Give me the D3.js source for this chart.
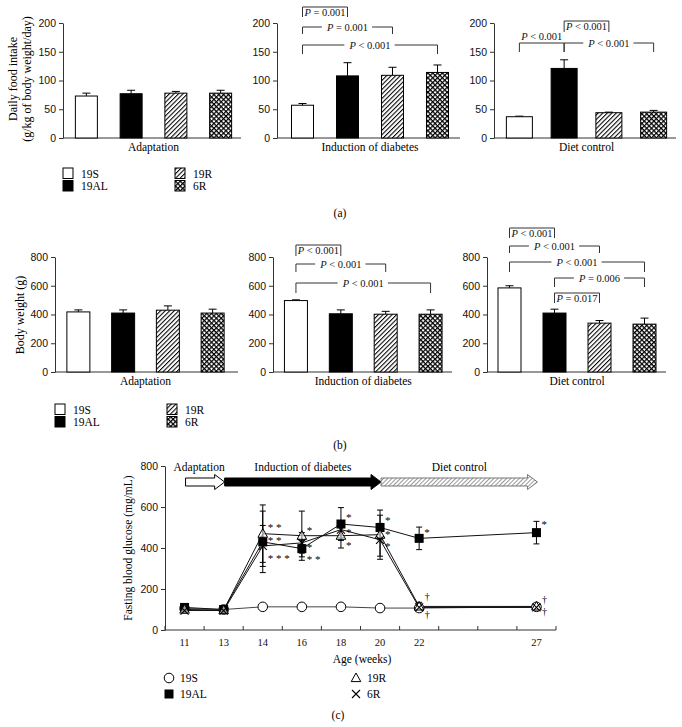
<!DOCTYPE html>
<html>
<head>
<meta charset="utf-8">
<script src="https://cdn.jsdelivr.net/npm/d3@7"></script>
<style>
  body { margin: 0; background: #fff; }
  svg { font-family: "Liberation Serif", "DejaVu Serif", serif; }
</style>
</head>
<body>
<svg id="chart" width="682" height="727"></svg>
<script>
// ---- data ----
const groups = ["19S", "19AL", "19R", "6R"];
const phases = ["Adaptation", "Induction of diabetes", "Diet control"];

// daily food intake (g/kg of body weight/day), one row per phase
const foodMean = [[73, 77, 78, 78], [57, 108, 109, 114], [37, 121, 44, 45]];
const foodErr = [[5, 6, 3, 5], [3, 23, 14, 13], [1, 15, 1, 3]];
// body weight (g)
const weightMean = [[418, 410, 430, 410], [497, 405, 402, 402], [585, 410, 340, 333]];
const weightErr = [[14, 22, 30, 27], [5, 27, 20, 30], [15, 27, 18, 42]];

// comparisons: [phase, group a, group b, label]
const foodStats = [
  [1, 0, 1, "= 0.001"], [1, 0, 2, "= 0.001"], [1, 0, 3, "< 0.001"],
  [2, 0, 1, "< 0.001"], [2, 1, 2, "< 0.001"], [2, 1, 3, "< 0.001"]
];
const weightStats = [
  [1, 0, 1, "< 0.001"], [1, 0, 2, "< 0.001"], [1, 0, 3, "< 0.001"],
  [2, 0, 1, "< 0.001"], [2, 0, 2, "< 0.001"], [2, 0, 3, "< 0.001"],
  [2, 1, 3, "= 0.006"], [2, 1, 2, "= 0.017"]
];

// fasting blood glucose (mg/mL)
const weeks = [11, 13, 14, 16, 18, 20, 22, 27];
const weekSlot = [0, 1, 2, 3, 4, 5, 6, 9];
const glucose19S = [105, 100, 113, 113, 113, 107, 107, 113];
const glucose19SErr = [8, 5, 4, 4, 4, 4, 4, 4];
const glucose19AL = [110, 100, 430, 397, 517, 500, 447, 475];
const glucose19ALErr = [10, 8, 150, 40, 80, 60, 55, 55];
const glucose19R = [100, 97, 470, 460, 460, 465, 115, 115];
const glucose19RErr = [10, 8, 140, 120, 60, 120, 20, 10];
const glucose6R = [95, 95, 410, 425, 490, 440, 110, 110];
const glucose6RErr = [8, 8, 100, 50, 40, 80, 15, 10];
const phaseSpans = [[11, 13], [13, 20], [20, 27]];
// significance marks: [week, value, text]
const starMarks = [
  [14, 512, "* *"], [14, 449, "* *"], [14, 361, "* * *"],
  [16, 500, "*"], [16, 415, "*"], [16, 355, "* *"],
  [18, 560, "*"], [18, 490, "*"], [18, 425, "*"],
  [20, 545, "*"], [20, 480, "*"], [20, 420, "*"],
  [22, 488, "*"], [27, 527, "*"]
];
const daggerMarks = [[22, 166], [22, 78], [27, 151], [27, 93]];

// ---- setup ----
const svg = d3.select("#chart");
svg.append("rect").attr("width", 682).attr("height", 727).attr("fill", "#fff");
const defs = svg.append("defs");

const hatch = defs.append("pattern").attr("id", "hatch")
  .attr("patternUnits", "userSpaceOnUse").attr("width", 3.2).attr("height", 3.2)
  .attr("patternTransform", "rotate(45)");
hatch.append("rect").attr("width", 3.2).attr("height", 3.2).attr("fill", "#fff");
hatch.append("line").attr("x1", 0.5).attr("x2", 0.5).attr("y1", 0).attr("y2", 3.2)
  .attr("stroke", "#000").attr("stroke-width", 1.1);

const cross = defs.append("pattern").attr("id", "cross")
  .attr("patternUnits", "userSpaceOnUse").attr("width", 3.4).attr("height", 3.4)
  .attr("patternTransform", "rotate(45)");
cross.append("rect").attr("width", 3.4).attr("height", 3.4).attr("fill", "#fff");
cross.append("path").attr("d", "M0,0.6H3.4M0.6,0V3.4")
  .attr("stroke", "#000").attr("stroke-width", 1.2);

const arrowHatch = defs.append("pattern").attr("id", "arrowHatch")
  .attr("patternUnits", "userSpaceOnUse").attr("width", 3).attr("height", 3)
  .attr("patternTransform", "rotate(45)");
arrowHatch.append("rect").attr("width", 3).attr("height", 3).attr("fill", "#fff");
arrowHatch.append("line").attr("x1", 0.5).attr("x2", 0.5).attr("y1", 0).attr("y2", 3)
  .attr("stroke", "#999").attr("stroke-width", 1);

const groupFill = ["#fff", "#000", "url(#hatch)", "url(#cross)"];

function pLabel(sel, label) {
  sel.append("tspan").attr("font-style", "italic").text("P");
  sel.append("tspan").text(" " + label);
}

function bracket(x, stat, lay) {
  const xa = x(groups[stat[1]]) + x.bandwidth() / 2;
  const xb = x(groups[stat[2]]) + x.bandwidth() / 2;
  const g = svg.append("g");
  g.append("path")
    .attr("d", `M${xa},${lay.y + lay.drop}V${lay.y}H${xb}V${lay.y + lay.drop}`)
    .attr("fill", "none").attr("stroke", "#333").attr("stroke-width", 1);
  const t = g.append("text").attr("x", (xa + xb) / 2).attr("text-anchor", "middle")
    .attr("font-size", 10.5).attr("fill", "#111");
  pLabel(t, stat[3]);
  if (lay.mode === "box") t.attr("y", lay.y + 9);
  else if (lay.mode === "above") t.attr("y", lay.y - 3);
  else {
    t.attr("y", lay.y + 3.5);
    const bb = t.node().getBBox();
    g.insert("rect", "text").attr("x", bb.x - 4).attr("y", lay.y - 2)
      .attr("width", bb.width + 8).attr("height", 4).attr("fill", "#fff");
  }
}

function barFigure(cfg) {
  const y = d3.scaleLinear().domain(cfg.domain).range([cfg.yBottom, cfg.yTop]);
  const xs = cfg.panels.map((p, i) => {
    const x = d3.scaleBand().domain(groups).range([p.x0, p.x1]);
    const g = svg.append("g");
    g.append("g").attr("transform", `translate(${p.axisX},0)`)
      .call(d3.axisLeft(y).tickValues(cfg.ticks).tickSize(4).tickSizeOuter(0).tickPadding(3))
      .call(a => a.selectAll("text").attr("font-size", 10.5).attr("font-family", null).attr("fill", "#111"))
      .call(a => a.selectAll("path,line").attr("stroke", "#333"));
    g.append("line").attr("x1", p.axisX).attr("x2", p.end)
      .attr("y1", y(0)).attr("y2", y(0)).attr("stroke", "#333");
    groups.forEach((grp, j) => {
      const cx = x(grp) + x.bandwidth() / 2;
      const m = cfg.mean[i][j], e = cfg.err[i][j];
      g.append("line").attr("x1", cx).attr("x2", cx).attr("y1", y(m)).attr("y2", y(m + e))
        .attr("stroke", "#000");
      g.append("line").attr("x1", cx - 4).attr("x2", cx + 4).attr("y1", y(m + e)).attr("y2", y(m + e))
        .attr("stroke", "#000");
      g.append("rect").attr("x", cx - p.bw / 2).attr("width", p.bw)
        .attr("y", y(m)).attr("height", y(0) - y(m))
        .attr("fill", groupFill[j]).attr("stroke", "#000").attr("stroke-width", 1);
    });
    g.append("text").attr("x", (p.x0 + p.x1) / 2).attr("y", cfg.phaseY)
      .attr("text-anchor", "middle").attr("font-size", 11.5).text(phases[i]);
    return x;
  });
  cfg.stats.forEach((s, k) => bracket(xs[s[0]], s, cfg.layout[k]));

  // legend
  groups.forEach((grp, j) => {
    const lx = cfg.legendX[Math.floor(j / 2)], ly = cfg.legendY + (j % 2) * 12.5;
    svg.append("rect").attr("x", lx).attr("y", ly).attr("width", 10).attr("height", 10.5)
      .attr("fill", groupFill[j]).attr("stroke", "#000");
    svg.append("text").attr("x", lx + 18).attr("y", ly + 9.5).attr("font-size", 11.5).text(grp);
  });
  svg.append("text").attr("x", 340).attr("y", cfg.tagY).attr("text-anchor", "middle")
    .attr("font-size", 11.5).text(cfg.tag);
}

// ---- (a) daily food intake ----
barFigure({
  domain: [0, 200], ticks: [0, 50, 100, 150, 200], yBottom: 138, yTop: 23,
  mean: foodMean, err: foodErr, stats: foodStats,
  panels: [
    { axisX: 63, x0: 64, x1: 243, end: 241, bw: 22 },
    { axisX: 277, x0: 280, x1: 460, end: 460, bw: 22 },
    { axisX: 494, x0: 497, x1: 676, end: 676, bw: 26 }
  ],
  layout: [
    { y: 7, drop: 10, mode: "box" }, { y: 27, drop: 7, mode: "gap" }, { y: 45, drop: 9, mode: "gap" },
    { y: 43, drop: 9, mode: "above" }, { y: 21, drop: 11, mode: "box" }, { y: 43, drop: 9, mode: "gap" }
  ],
  phaseY: 151, legendX: [63, 175], legendY: 168, tag: "(a)", tagY: 217
});
svg.append("text").attr("transform", "translate(17,79)rotate(-90)").attr("text-anchor", "middle")
  .attr("font-size", 12).text("Daily food intake");
svg.append("text").attr("transform", "translate(31,79)rotate(-90)").attr("text-anchor", "middle")
  .attr("font-size", 12).text("(g/kg of body weight/day)");

// ---- (b) body weight ----
barFigure({
  domain: [0, 800], ticks: [0, 200, 400, 600, 800], yBottom: 372, yTop: 257,
  mean: weightMean, err: weightErr, stats: weightStats,
  panels: [
    { axisX: 55, x0: 56, x1: 235, end: 238, bw: 23 },
    { axisX: 273, x0: 273.5, x1: 453, end: 452, bw: 23 },
    { axisX: 487, x0: 487, x1: 667, end: 666, bw: 23 }
  ],
  layout: [
    { y: 245, drop: 11, mode: "box" }, { y: 264, drop: 8, mode: "gap" }, { y: 283, drop: 10, mode: "gap" },
    { y: 228, drop: 10, mode: "box" }, { y: 246, drop: 7, mode: "gap" }, { y: 262, drop: 10, mode: "gap" },
    { y: 278, drop: 9, mode: "gap" }, { y: 293, drop: 10, mode: "box" }
  ],
  phaseY: 385, legendX: [55, 167], legendY: 404, tag: "(b)", tagY: 449
});
svg.append("text").attr("transform", "translate(24,315)rotate(-90)").attr("text-anchor", "middle")
  .attr("font-size", 12).text("Body weight (g)");

// ---- (c) fasting blood glucose ----
const xg = d3.scaleBand().domain(d3.range(10)).range([165, 556]);
const yg = d3.scaleLinear().domain([0, 800]).range([630, 466]);
const wx = w => xg(weekSlot[weeks.indexOf(w)]) + xg.bandwidth() / 2;

const cg = svg.append("g");
cg.append("g").attr("transform", "translate(165,0)")
  .call(d3.axisLeft(yg).tickValues([0, 200, 400, 600, 800]).tickSize(4).tickSizeOuter(0).tickPadding(3))
  .call(a => a.selectAll("text").attr("font-size", 10.5).attr("font-family", null).attr("fill", "#111"))
  .call(a => a.selectAll("path,line").attr("stroke", "#333"));
cg.append("line").attr("x1", 165).attr("x2", 556).attr("y1", yg(0)).attr("y2", yg(0)).attr("stroke", "#333");
d3.range(11).forEach(i => {
  const tx = i < 10 ? xg(i) : xg.range()[1];
  cg.append("line").attr("x1", tx).attr("x2", tx).attr("y1", yg(0)).attr("y2", yg(0) - 4).attr("stroke", "#333");
});
weeks.forEach(w => cg.append("text").attr("x", wx(w)).attr("y", 646).attr("text-anchor", "middle")
  .attr("font-size", 10.5).attr("fill", "#111").text(w));
cg.append("text").attr("x", 362).attr("y", 663).attr("text-anchor", "middle").attr("font-size", 11.5).text("Age (weeks)");
svg.append("text").attr("transform", "translate(132,548)rotate(-90)").attr("text-anchor", "middle")
  .attr("font-size", 11.5).text("Fasting blood glucose (mg/mL)");

// phase arrows
const arrowFill = ["#fff", "#000", "url(#arrowHatch)"];
phaseSpans.forEach((s, i) => {
  const x0 = wx(s[0]) + 1, x1 = wx(s[1]) + 1, yc = 482, hw = 4, hh = 7.5, hl = 10;
  cg.append("path")
    .attr("d", `M${x0},${yc - hw}H${x1 - hl}V${yc - hh}L${x1},${yc}L${x1 - hl},${yc + hh}V${yc + hw}H${x0}Z`)
    .attr("fill", arrowFill[i]).attr("stroke", i === 2 ? "#777" : "#000").attr("stroke-width", 1);
  cg.append("text").attr("x", (x0 + x1) / 2 - (i === 0 ? 6 : 0)).attr("y", 471).attr("text-anchor", "middle")
    .attr("font-size", 11.5).text(phases[i]);
});

const series = [
  { name: "19S", v: glucose19S, e: glucose19SErr },
  { name: "19AL", v: glucose19AL, e: glucose19ALErr },
  { name: "19R", v: glucose19R, e: glucose19RErr },
  { name: "6R", v: glucose6R, e: glucose6RErr }
];
const line = d3.line().x((d, i) => wx(weeks[i])).y(d => yg(d));
series.forEach(s => {
  cg.append("path").attr("d", line(s.v)).attr("fill", "none")
    .attr("stroke", s.name === "19S" ? "#444" : "#111").attr("stroke-width", 1);
});
series.forEach(s => {
  s.v.forEach((v, i) => {
    const px = wx(weeks[i]), lo = yg(v - s.e[i]), hi = yg(v + s.e[i]);
    cg.append("path").attr("d", `M${px},${lo}V${hi}M${px - 3},${lo}H${px + 3}M${px - 3},${hi}H${px + 3}`)
      .attr("stroke", "#000").attr("stroke-width", 1).attr("fill", "none");
  });
});

function marker(g, name, px, py) {
  if (name === "19S") g.append("circle").attr("cx", px).attr("cy", py).attr("r", 4.8)
    .attr("fill", "#fff").attr("stroke", "#000");
  else if (name === "19AL") g.append("rect").attr("x", px - 4.5).attr("y", py - 4.5)
    .attr("width", 9).attr("height", 9).attr("fill", "#000");
  else if (name === "19R") g.append("path").attr("transform", `translate(${px},${py})`)
    .attr("d", "M0,-5L4.8,3.6H-4.8Z").attr("fill", "#fff").attr("fill-opacity", 0.6).attr("stroke", "#000");
  else g.append("path").attr("d", `M${px - 4},${py - 4}L${px + 4},${py + 4}M${px - 4},${py + 4}L${px + 4},${py - 4}`)
    .attr("stroke", "#000").attr("stroke-width", 1.1);
}
series.forEach(s => s.v.forEach((v, i) => marker(cg, s.name, wx(weeks[i]), yg(v))));

starMarks.forEach(m => cg.append("text").attr("x", wx(m[0]) + 5).attr("y", yg(m[1]) + 6)
  .attr("font-size", 11).attr("fill", "#000").text(m[2]));
daggerMarks.forEach(m => cg.append("text").attr("x", wx(m[0]) + 8).attr("y", yg(m[1]) + 4)
  .attr("text-anchor", "middle").attr("font-size", 10).attr("fill", "#000").text("\u2020"));

// legend (c)
const legPos = [[169, 678], [169, 694], [356, 678], [356, 694]];
series.forEach((s, j) => {
  marker(svg, s.name, legPos[j][0], legPos[j][1]);
  svg.append("text").attr("x", legPos[j][0] + 11).attr("y", legPos[j][1] + 4).attr("font-size", 11.5).text(s.name);
});
svg.append("text").attr("x", 338).attr("y", 719).attr("text-anchor", "middle").attr("font-size", 11.5).text("(c)");
</script>
</body>
</html>
